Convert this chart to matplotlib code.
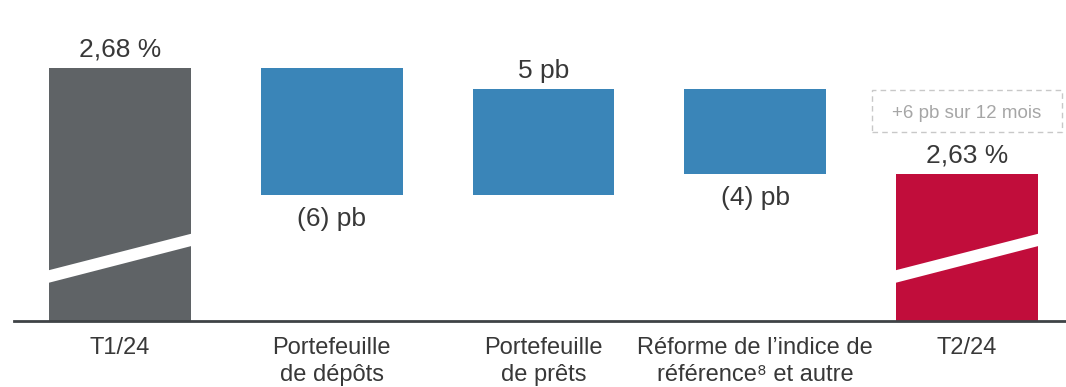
import matplotlib
matplotlib.use("Agg")
import matplotlib.pyplot as plt
from matplotlib.patches import Polygon, Rectangle

plt.rcParams["font.family"] = ["Liberation Sans", "DejaVu Sans"]

# --- data -------------------------------------------------------------
categories = [
    "T1/24",
    "Portefeuille\nde dépôts",
    "Portefeuille\nde prêts",
    "Réforme de l\u2019indice de\nréférence\u2078 et autre",
    "T2/24",
]
start_value = 2.68          # marge T1/24 (%)
changes_pb = [-6, 5, -4]    # variations en points de base
end_value = 2.63            # marge T2/24 (%)
start_label = "2,68 %"
end_label = "2,63 %"
change_labels = ["(6) pb", "5 pb", "(4) pb"]
note_text = "+6 pb sur 12 mois"

# --- style ------------------------------------------------------------
GREY = "#5f6366"
BLUE = "#3a85b8"
RED = "#c10d3b"
TEXT = "#383838"
NOTE = "#a6a6a6"

axis_floor = 2.561          # truncated axis (broken bars)
bar_w = 0.67

fig = plt.figure(figsize=(10.66, 3.87), dpi=100)
ax = fig.add_axes([0, 0, 1, 1])
ax.set_xlim(-0.5667, 4.4675)
ax.set_ylim(2.5298, 2.7118)
ax.axis("off")

px_x = 4.4675 + 0.5667      # data units across full width
px_y = 2.7118 - 2.5298
def dx(px):
    return px * px_x / 1066
def dy(px):
    return px * px_y / 387

# end bars
ax.bar(0, start_value - axis_floor, bottom=axis_floor, width=bar_w, color=GREY, zorder=2)
ax.bar(4, end_value - axis_floor, bottom=axis_floor, width=bar_w, color=RED, zorder=2)

# floating change bars
level = start_value
for i, ch in enumerate(changes_pb, start=1):
    new_level = level + ch / 100.0
    ax.bar(i, abs(new_level - level), bottom=min(level, new_level),
           width=bar_w, color=BLUE, zorder=2)
    if ch >= 0:
        ax.annotate(change_labels[i - 1], xy=(i, new_level), xytext=(0, 7.9),
                    textcoords="offset points", ha="center", va="baseline",
                    fontsize=19, color=TEXT)
    else:
        ax.annotate(change_labels[i - 1], xy=(i, new_level), xytext=(0, -22.3),
                    textcoords="offset points", ha="center", va="baseline",
                    fontsize=19, color=TEXT)
    level = new_level

ax.annotate(start_label, xy=(0, start_value), xytext=(0, 7.9),
            textcoords="offset points", ha="center", va="baseline",
            fontsize=19, color=TEXT)
ax.annotate(end_label, xy=(4, end_value), xytext=(0, 8.4),
            textcoords="offset points", ha="center", va="baseline",
            fontsize=19, color=TEXT)

# axis break slash across the two end bars
for xc in (0, 4):
    x0 = xc - bar_w / 2 - 0.01
    x1 = xc + bar_w / 2 + 0.01
    slash = Polygon([(x0, axis_floor + 0.0176), (x1, axis_floor + 0.0353),
                     (x1, axis_floor + 0.0411), (x0, axis_floor + 0.0235)],
                    closed=True, facecolor="white", edgecolor="none", zorder=3)
    ax.add_patch(slash)

# dashed note box above the last bar
box_cy = end_value + dy(63)
box_w, box_h = dx(190), dy(42)
ax.add_patch(Rectangle((4 - box_w / 2, box_cy - box_h / 2), box_w, box_h,
                       facecolor="white", edgecolor="#c8c8c8", lw=1.0,
                       ls=(0, (4, 3)), zorder=2))
ax.annotate(note_text, xy=(4, box_cy), xytext=(0, -4.8),
            textcoords="offset points", ha="center", va="baseline",
            fontsize=13.5, color=NOTE)

# baseline
ax.axhline(axis_floor, xmin=14 / 1066, xmax=1, color="#3f4346", lw=2, zorder=4)

# category labels
for i, lab in enumerate(categories):
    ax.annotate(lab, xy=(i, axis_floor), xytext=(0, -11.5),
                textcoords="offset points", ha="center", va="top",
                fontsize=17, color=TEXT, linespacing=1.3)

fig.savefig("out.png", dpi=100)
